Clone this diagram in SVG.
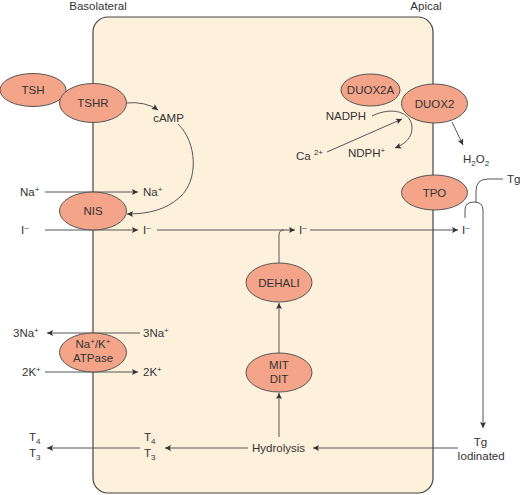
<svg xmlns="http://www.w3.org/2000/svg" width="520" height="495" viewBox="0 0 520 495">
<defs>
<style>
.cell{fill:#fef1dc;stroke:#444;stroke-width:1.2}
.node ellipse{fill:#f4a489;stroke:#555;stroke-width:1}
text{font-family:"Liberation Sans",Arial,sans-serif;font-size:11.5px;fill:#333}
.c{text-anchor:middle}
.e{text-anchor:end}
.sup{font-size:8px}
#connectors path{fill:none;stroke:#555;stroke-width:1}
.arr{marker-end:url(#ah)}
</style>
<marker id="ah" viewBox="0 0 10 10" refX="10" refY="5" markerWidth="8" markerHeight="6" orient="auto" markerUnits="userSpaceOnUse">
<path d="M0,0 L10,5 L0,10 L2,5 z" fill="#333"/>
</marker>
</defs>
<rect class="cell" x="93" y="17" width="340" height="476" rx="15"/>
<text class="c" x="98" y="10">Basolateral</text>
<text class="c" x="426" y="10">Apical</text>
<g id="connectors">
<path class="arr" d="M126,103 Q145,101 158,110"/>
<path class="arr" d="M178,124 C197,142 199,180 180,197 C166,210 148,214 127,214"/>
<path class="arr" d="M45,192 L138,192"/>
<path class="arr" d="M45,230 L138,230"/>
<path class="arr" d="M157,230 L295,230"/>
<path d="M279,263 L279,235 Q279,230 284,230"/>
<path class="arr" d="M310,230 L458,230"/>
<path class="arr" d="M279,353 L279,303"/>
<path class="arr" d="M279,437 L279,393"/>
<path class="arr" d="M458,448 L313,448"/>
<path class="arr" d="M248,448 L165,448"/>
<path class="arr" d="M140,448 L47,448"/>
<path class="arr" d="M140,333 L47,333"/>
<path class="arr" d="M45,372 L138,372"/>
<path class="arr" d="M372,116 C392,106 412,112 412,128 C412,138 405,144 395,148"/>
<path class="arr" d="M327,152 L402,119"/>
<path class="arr" d="M452,122 L463,145"/>
<path d="M503,179 L488,179 Q476,179 476,191 L476,202"/>
<path class="arr" d="M465,218 L465,210 Q465,202 474,202 Q483,202 483,210 L483,428"/>
</g>
<g id="tsh" class="node"><ellipse cx="33" cy="90" rx="33" ry="16.5"/><text class="c" x="33" y="94">TSH</text></g>
<g id="tshr" class="node"><ellipse cx="93" cy="103" rx="33.5" ry="19.5"/><text class="c" x="93" y="107">TSHR</text></g>
<g id="nis" class="node"><ellipse cx="93" cy="211" rx="33.5" ry="19"/><text class="c" x="93" y="215">NIS</text></g>
<g id="atpase" class="node"><ellipse cx="93" cy="352.5" rx="33.5" ry="19.5"/><text class="c" x="93" y="348">Na<tspan class="sup" dy="-4">+</tspan><tspan dy="4">/K</tspan><tspan class="sup" dy="-4">+</tspan></text><text class="c" x="93" y="362">ATPase</text></g>
<g id="duox2a" class="node"><ellipse cx="370.5" cy="90" rx="29.5" ry="16"/><text class="c" x="370.5" y="94">DUOX2A</text></g>
<g id="duox2" class="node"><ellipse cx="434.5" cy="103.5" rx="33" ry="19.5"/><text class="c" x="434.5" y="108">DUOX2</text></g>
<g id="tpo" class="node"><ellipse cx="434.5" cy="192.5" rx="33" ry="17.5"/><text class="c" x="434.5" y="197">TPO</text></g>
<g id="dehali" class="node"><ellipse cx="279" cy="282.5" rx="33" ry="19.5"/><text class="c" x="279" y="287">DEHALI</text></g>
<g id="mitdit" class="node"><ellipse cx="279" cy="372.5" rx="33" ry="19.5"/><text class="c" x="279" y="369">MIT</text><text class="c" x="279" y="383">DIT</text></g>
<g id="labels">
<text class="c" x="168.5" y="122">cAMP</text>
<text x="20" y="196">Na<tspan class="sup" dy="-4">+</tspan></text>
<text x="143" y="196">Na<tspan class="sup" dy="-4">+</tspan></text>
<text x="21" y="234">I<tspan class="sup" dy="-4">–</tspan></text>
<text x="143" y="234">I<tspan class="sup" dy="-4">–</tspan></text>
<text x="299" y="234">I<tspan class="sup" dy="-4">–</tspan></text>
<text x="462" y="234">I<tspan class="sup" dy="-4">–</tspan></text>
<text x="13" y="337">3Na<tspan class="sup" dy="-4">+</tspan></text>
<text x="143" y="337">3Na<tspan class="sup" dy="-4">+</tspan></text>
<text x="22" y="376">2K<tspan class="sup" dy="-4">+</tspan></text>
<text x="143" y="376">2K<tspan class="sup" dy="-4">+</tspan></text>
<text x="29" y="441">T<tspan class="sup" dy="3">4</tspan></text>
<text x="29" y="457">T<tspan class="sup" dy="3">3</tspan></text>
<text x="144" y="441">T<tspan class="sup" dy="3">4</tspan></text>
<text x="144" y="457">T<tspan class="sup" dy="3">3</tspan></text>
<text x="252" y="452">Hydrolysis</text>
<text class="c" x="480.5" y="446">Tg</text>
<text class="c" x="481" y="460">Iodinated</text>
<text x="507" y="183">Tg</text>
<text x="463" y="163">H<tspan class="sup" dy="3">2</tspan><tspan dy="-3">O</tspan><tspan class="sup" dy="3">2</tspan></text>
<text class="e" x="366" y="120">NADPH</text>
<text x="296" y="160">Ca <tspan class="sup" dy="-5">2+</tspan></text>
<text x="348" y="157">NDPH<tspan class="sup" dy="-4">+</tspan></text>
</g>
</svg>
